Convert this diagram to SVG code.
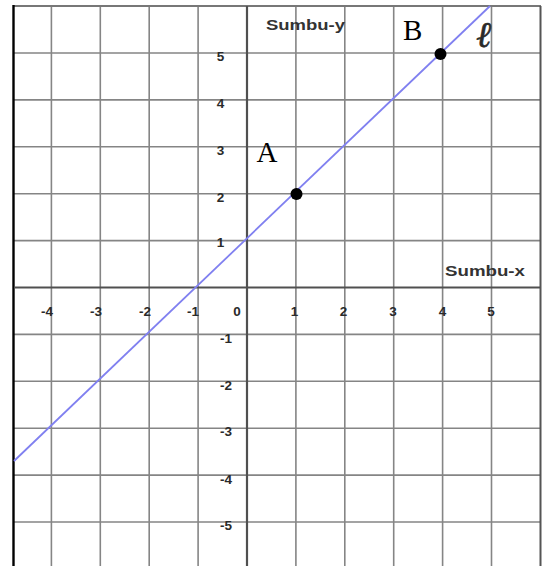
<svg xmlns="http://www.w3.org/2000/svg" width="542" height="566" viewBox="0 0 542 566">
<style>
.grid{stroke:#858585;stroke-width:1.6;fill:none}
.axis{stroke:#505050;stroke-width:2.2;fill:none}
.num{font-family:"Liberation Sans",Arial,sans-serif;font-weight:bold;font-size:13.5px;fill:#2a2a2a}
.axlbl{font-family:"Liberation Sans",Arial,sans-serif;font-weight:bold;font-size:14px;fill:#333}
.pt{font-family:"Liberation Serif","Times New Roman",serif;font-size:29px;fill:#000}
</style>
<rect width="542" height="566" fill="#fff"/>
<g id="grid">
<path class="grid" d="M51.4 6V566M100.3 6V566M149.2 6V566M198.1 6V566M295.9 6V566M344.8 6V566M393.7 6V566M442.6 6V566M491.5 6V566"/>
<path class="grid" d="M14 53H540M14 99.9H540M14 146.8H540M14 193.7H540M14 240.6H540M14 334.4H540M14 381.3H540M14 428.2H540M14 475.1H540M14 522H540"/>
<path d="M13 6H541" stroke="#777" stroke-width="1.8"/>
<path d="M540.5 6V566" stroke="#555" stroke-width="2"/>
<path d="M13.5 5V566" stroke="#000" stroke-width="2.4"/>
</g>
<g id="axes">
<path class="axis" d="M14 287.5H540"/>
<path class="axis" d="M247 6V566"/>
<text class="axlbl" x="266" y="30" textLength="79" lengthAdjust="spacingAndGlyphs">Sumbu-y</text>
<text class="axlbl" x="445" y="276" textLength="80" lengthAdjust="spacingAndGlyphs">Sumbu-x</text>
</g>
<g id="x-labels" class="num">
<text x="53" y="316" text-anchor="end">-4</text>
<text x="102" y="316" text-anchor="end">-3</text>
<text x="151" y="316" text-anchor="end">-2</text>
<text x="199" y="316" text-anchor="end">-1</text>
<text x="237" y="316" text-anchor="middle">0</text>
<text x="294.5" y="316" text-anchor="middle">1</text>
<text x="343.5" y="316" text-anchor="middle">2</text>
<text x="393" y="316" text-anchor="middle">3</text>
<text x="442.5" y="316" text-anchor="middle">4</text>
<text x="491" y="316" text-anchor="middle">5</text>
</g>
<g id="y-labels" class="num">
<text x="220.5" y="60.5" text-anchor="middle">5</text>
<text x="220.5" y="107.5" text-anchor="middle">4</text>
<text x="220.5" y="155" text-anchor="middle">3</text>
<text x="220.5" y="201.5" text-anchor="middle">2</text>
<text x="220.5" y="247" text-anchor="middle">1</text>
<text x="232" y="343" text-anchor="end">-1</text>
<text x="232" y="390" text-anchor="end">-2</text>
<text x="232" y="436" text-anchor="end">-3</text>
<text x="232" y="484" text-anchor="end">-4</text>
<text x="232" y="530" text-anchor="end">-5</text>
</g>
<g id="connectors">
<path id="line-l" d="M14 461L490 6" stroke="#8080f0" stroke-width="1.8" fill="none"/>
</g>
<g id="point-A">
<circle cx="296.5" cy="194" r="6" fill="#000"/>
<text class="pt" x="256.5" y="161.5">A</text>
</g>
<g id="point-B">
<circle cx="440.5" cy="54" r="6" fill="#000"/>
<text class="pt" x="403" y="40">B</text>
</g>
<g id="label-l">
<text x="476" y="47" font-family="DejaVu Serif,serif" font-style="italic" font-size="36" fill="#2a2a2a" stroke="#2a2a2a" stroke-width="0.6">ℓ</text>
</g>
</svg>
